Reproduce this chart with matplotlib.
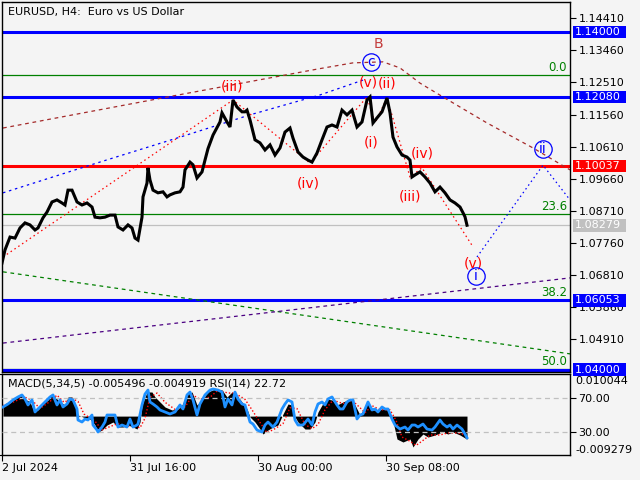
import matplotlib
matplotlib.use("Agg")
import matplotlib.pyplot as plt
from matplotlib.patches import Rectangle
from matplotlib.transforms import blended_transform_factory, offset_copy

# ---------------- data ----------------
bar_x = [2, 5, 10, 15, 20, 25, 30, 35, 38, 43, 47, 52, 57, 62, 65, 68, 72, 77, 82, 87,
         92, 95, 100, 105, 110, 115, 118, 123, 128, 132, 135, 138, 142, 143, 147, 148, 150, 153, 158, 163,
         167, 170, 175, 180, 183, 185, 190, 193, 197, 202, 205, 208, 213, 220, 222, 227, 230, 233, 237, 242,
         245, 247, 250, 255, 260, 265, 270, 275, 280, 285, 290, 293, 298, 303, 308, 312, 317, 322, 327, 332,
         337, 342, 347, 352, 357, 362, 367, 370, 373, 377, 382, 387, 390, 393, 397, 402, 407, 410, 412, 415,
         420, 425, 430, 435, 440, 445, 450, 455, 460, 463, 465, 467]
close = [1.0716, 1.0755, 1.0793, 1.0790, 1.0820, 1.0835, 1.0829, 1.0814, 1.0820, 1.0850,
         1.0867, 1.0897, 1.0903, 1.0894, 1.0888, 1.0932, 1.0932, 1.0897, 1.0888, 1.0894,
         1.0882, 1.0852, 1.0850, 1.0852, 1.0858, 1.0858, 1.0823, 1.0814, 1.0829, 1.0820,
         1.0790, 1.0784, 1.0852, 1.0912, 1.0953, 1.0998, 1.0962, 1.0932, 1.0924, 1.0927,
         1.0912, 1.0918, 1.0924, 1.0927, 1.0941, 1.0992, 1.1015, 1.1007, 1.0968, 1.0986,
         1.1021, 1.1055, 1.1095, 1.1134, 1.1161, 1.1134, 1.1119, 1.1199, 1.1178, 1.1164,
         1.1164, 1.1169, 1.1140, 1.1081, 1.1072, 1.1051, 1.1066, 1.1036, 1.1057, 1.1104,
         1.1116, 1.1086, 1.1045, 1.1030, 1.1021, 1.1015, 1.1042, 1.1081, 1.1119, 1.1125,
         1.1119, 1.1169, 1.1155, 1.1169, 1.1119, 1.1134, 1.1199, 1.1208, 1.1131, 1.1146,
         1.1164, 1.1205, 1.1161, 1.1089, 1.1060, 1.1036, 1.1030, 1.1021, 1.0971, 1.0977,
         1.0986, 1.0971, 1.0953, 1.0927, 1.0941, 1.0924, 1.0903, 1.0894, 1.0882, 1.0865,
         1.0853, 1.0828]

macd_x = [3, 8, 13, 20, 25, 30, 33, 38, 43, 48, 52, 55, 60, 65, 68, 72, 75, 78, 83, 90,
          95, 98, 102, 107, 113, 118, 123, 128, 133, 137, 140, 142, 147, 152, 155, 160, 165, 172, 178, 182,
          187, 192, 197, 202, 208, 215, 222, 227, 232, 237, 242, 247, 250, 255, 260, 263, 268, 273, 278, 283,
          288, 292, 295, 298, 305, 310, 315, 318, 322, 327, 332, 337, 343, 350, 355, 360, 363, 368, 373, 378,
          383, 388, 392, 397, 403, 410, 413, 418, 423, 428, 435, 442, 448, 453, 460, 467]
macd = [0.00265, 0.00289, 0.00384, 0.00503, 0.00408, 0.00336, 0.00169, 0.00146, 0.00289, 0.00384,
        0.00527, 0.00456, 0.00336, 0.00265, 0.00456, 0.00456, 0.00289, 0.00026, -0.00021, -0.00069,
        -0.00212, -0.00379, -0.00331, -0.00212, -0.00141, -0.00260, -0.00260, -0.00212, -0.00260, -0.00308,
        -0.00141, 0.00265, 0.00575, 0.00575, 0.00456, 0.00336, 0.00217, 0.00146, 0.00169, 0.00265,
        0.00527, 0.00575, 0.00265, 0.00384, 0.00575, 0.00647, 0.00623, 0.00456, 0.00575, 0.00503,
        0.00336, 0.00169, -0.00021, -0.00141, -0.00308, -0.00427, -0.00331, -0.00260, -0.00212, 0.00050,
        0.00289, 0.00265, -0.00021, -0.00141, -0.00308, -0.00308, -0.00141, 0.00098, 0.00265, 0.00408,
        0.00384, 0.00265, 0.00336, 0.00408, 0.00265, 0.00026, 0.00146, 0.00336, 0.00146, 0.00146,
        0.00169, 0.00146, -0.00021, -0.00547, -0.00618, -0.00547, -0.00737, -0.00547, -0.00427, -0.00499,
        -0.00451, -0.00379, -0.00427, -0.00379, -0.00451, -0.00550]

signal_x = [3, 15, 24, 32, 40, 50, 57, 64, 72, 78, 84, 95, 102, 110, 118, 125, 133, 140, 145, 150,
            157, 165, 175, 185, 193, 200, 210, 218, 228, 235, 245, 252, 260, 267, 275, 283, 290, 297, 305, 312,
            318, 325, 333, 343, 352, 360, 365, 372, 380, 390, 396, 402, 410, 416, 423, 430, 440, 448, 455, 462, 467]
signal = [0.0025, 0.0035, 0.0046, 0.0038, 0.0018, 0.0035, 0.0050, 0.0033, 0.0042, 0.0035,
          0.0005, -0.0012, -0.0033, -0.0025, -0.0018, -0.0025, -0.0023, -0.0028, -0.0005, 0.0045,
          0.0055, 0.0033, 0.0016, 0.0022, 0.0050, 0.0040, 0.0045, 0.0062, 0.0055, 0.0055,
          0.0040, 0.0015, -0.0015, -0.0040, -0.0030, -0.0018, 0.0020, 0.0018, -0.0020, -0.0030,
          -0.0020, 0.0015, 0.0038, 0.0030, 0.0038, 0.0020, 0.0008, 0.0025, 0.0015, 0.0015,
          -0.0010, -0.0050, -0.0060, -0.0070, -0.0058, -0.0045, -0.0045, -0.0040, -0.0040, -0.0042, -0.0049]

rsi_x = [3, 8, 13, 18, 22, 25, 28, 32, 35, 40, 45, 50, 53, 57, 60, 63, 67, 70, 73, 77,
         78, 82, 85, 88, 92, 93, 97, 98, 102, 105, 107, 112, 115, 118, 122, 127, 130, 133, 137, 138,
         142, 145, 148, 150, 153, 157, 160, 165, 170, 175, 180, 183, 187, 190, 193, 197, 200, 205, 210, 213,
         218, 222, 225, 228, 232, 235, 238, 242, 245, 248, 250, 253, 257, 262, 265, 268, 273, 277, 282, 285,
         288, 292, 295, 298, 303, 308, 312, 315, 318, 322, 325, 328, 332, 337, 340, 343, 347, 350, 353, 357,
         360, 363, 368, 372, 375, 378, 382, 385, 388, 392, 395, 400, 405, 408, 412, 415, 418, 423, 427, 432,
         435, 440, 443, 447, 450, 453, 457, 462, 465, 467]
rsi = [59.6, 63.2, 68.0, 71.6, 74.0, 69.2, 62.0, 68.0, 53.6, 59.6, 65.6, 71.6, 74.0, 62.0, 68.0, 59.6, 63.2, 69.2, 68.0, 57.2,
       44.0, 41.6, 45.2, 44.0, 50.0, 38.0, 32.0, 29.6, 35.6, 41.6, 50.0, 50.0, 50.0, 35.6, 38.0, 35.6, 45.2, 35.6, 38.0, 39.2,
       62.0, 75.1, 79.9, 65.6, 63.2, 59.6, 56.0, 53.6, 51.2, 53.6, 62.0, 57.2, 74.0, 77.5, 68.0, 50.0, 63.2, 74.0, 79.9, 81.1,
       79.9, 77.5, 59.6, 69.2, 62.0, 77.5, 69.2, 63.2, 62.0, 50.0, 41.6, 39.2, 32.0, 29.6, 38.0, 41.6, 35.6, 41.6, 57.2, 63.2,
       68.0, 65.6, 44.0, 38.0, 38.0, 45.2, 38.0, 53.6, 63.2, 65.6, 62.0, 69.2, 71.6, 62.0, 57.2, 57.2, 65.6, 68.0, 68.0, 45.2,
       50.0, 51.2, 65.6, 56.0, 57.2, 53.6, 59.6, 57.2, 57.2, 45.2, 38.0, 33.2, 35.6, 32.0, 38.0, 38.0, 35.6, 39.2, 33.2, 32.0,
       35.6, 44.0, 39.2, 35.6, 38.0, 33.2, 38.0, 33.2, 27.2, 22.7]

price_ticks = [1.14410, 1.13460, 1.12510, 1.11560, 1.10610, 1.09660, 1.08710, 1.07760,
               1.06810, 1.05860, 1.04910]
level_prices = [1.14000, 1.12080, 1.10037, 1.06053, 1.04000]
level_colors = ["#0000ff", "#0000ff", "#ff0000", "#0000ff", "#0000ff"]
fib_labels = ["0.0", "23.6", "38.2", "50.0"]
fib_prices = [1.1272, 1.0861, 1.0607, 1.0401]
last_price = 1.08279

date_pos = [2, 130, 258, 386]
date_labels = ["2 Jul 2024", "31 Jul 16:00", "30 Aug 00:00", "30 Sep 08:00"]

# drawn trend / wave lines (bar index, price)
brown_x = [3, 173, 318, 353, 383, 400, 420, 443, 487, 533, 570]
brown_y = [1.1116, 1.1211, 1.1291, 1.1309, 1.1312, 1.1294, 1.1249, 1.1208, 1.1131, 1.1057, 1.0992]
bluecurve_x = [3, 90, 180, 250, 320, 363]
bluecurve_y = [1.0924, 1.1006, 1.1089, 1.1155, 1.1214, 1.1258]
wave_x = [3, 233, 310, 367, 375, 387, 410, 422, 473]
wave_y = [1.0734, 1.1199, 1.1012, 1.1208, 1.1131, 1.1205, 1.0971, 1.0998, 1.0764]
proj_x = [477, 543, 570]
proj_y = [1.0734, 1.1006, 1.0903]
green_x = [3, 570]
green_y = [1.0690, 1.0447]
purple_x = [3, 570]
purple_y = [1.0479, 1.0672]

# ---------------- figure ----------------
BG = "#f4f4f4"
W, H = 640, 480
fig = plt.figure(figsize=(6.4, 4.8), dpi=100, facecolor=BG)


def rect(l, t, r, b):
    return [l / W, 1 - b / H, (r - l) / W, (b - t) / H]


ax = fig.add_axes(rect(2, 2, 570, 372))
ax.set_facecolor(BG)
ax.set_xlim(2, 570)
ax.set_ylim(1.03933, 1.14893)
for s in ax.spines.values():
    s.set_color("black")
    s.set_linewidth(1)
ax.set_xticks([])
ax.yaxis.tick_right()
ax.set_yticks(price_ticks)
ax.set_yticklabels([f"{v:.5f}" for v in price_ticks])
ax.tick_params(axis="y", direction="out", length=4, pad=2, labelsize=8, colors="black")

# horizontal levels
for p in fib_prices:
    ax.axhline(p, color="#008000", lw=0.9, zorder=2)
ax.axhline(last_price, color="#c0c0c0", lw=0.9, zorder=2)
for p, c in zip(level_prices, level_colors):
    ax.axhline(p, color=c, lw=2.2, zorder=2.2)

# trend lines
ax.plot(green_x, green_y, color="#008000", lw=0.9, ls=(0, (3, 3)), zorder=2.5)
ax.plot(purple_x, purple_y, color="#4b0082", lw=0.9, ls=(0, (3, 3)), zorder=2.5)
ax.plot(brown_x, brown_y, color="#a52a2a", lw=0.9, ls=(0, (3, 3)), zorder=2.5)
ax.plot(bluecurve_x, bluecurve_y, color="#0000ff", lw=0.9, ls=(0, (2, 3)), zorder=2.5)
ax.plot(wave_x, wave_y, color="#ff0000", lw=0.9, ls=(0, (1.2, 2.5)), zorder=2.5)
ax.plot(proj_x, proj_y, color="#0000ff", lw=0.9, ls=(0, (1.2, 2.5)), zorder=2.5)

# price
ax.plot(bar_x, close, color="black", lw=2.2, zorder=3, solid_joinstyle="miter")

# fib labels
trb = blended_transform_factory(ax.transAxes, ax.transData)
for lab, p in zip(fib_labels, fib_prices):
    ax.text(0.995, p + 0.0004, lab, transform=trb, ha="right", va="bottom",
            color="#008000", fontsize=8.5, zorder=4)

# right price boxes
box_prices = level_prices + [last_price]
box_colors = level_colors + ["#c0c0c0"]
box_x0 = (573 - 2) / 568
box_w = 53 / 568
box_h = 12.5 * 0.0002962
for p, c in zip(box_prices, box_colors):
    ax.add_patch(Rectangle((box_x0, p - box_h / 2), box_w, box_h, transform=trb,
                           facecolor=c, edgecolor="none", clip_on=False, zorder=6))
    ax.text(1.0 + 5 / 568, p, f"{p:.5f}", transform=trb, ha="left", va="center",
            color="white", fontsize=8, clip_on=False, zorder=7)

# wave labels
red = "#ff0000"
texts = [("B", 378, 1.1365, "#c43c3c"), ("(v)", 368, 1.1252, red), ("(ii)", 387, 1.1249, red),
         ("(iii)", 232, 1.1240, red), ("(i)", 371, 1.1072, red), ("(iv)", 308, 1.0953, red),
         ("(iv)", 422, 1.1042, red), ("(iii)", 410, 1.0912, red), ("(v)", 473, 1.0716, red)]
for t, x, y, c in texts:
    ax.text(x, y, t, color=c, fontsize=10, ha="center", va="center", zorder=5)
circled = [("c", 371, 1.1312), ("i", 476, 1.0678), ("ii", 543, 1.1054)]
for t, x, y in circled:
    ax.plot([x], [y], marker="o", ms=12.5, mfc="none", mec="#0000ff", mew=0.9, zorder=5)
    ax.text(x, y, t, color="#0000ff", fontsize=10, ha="center", va="center", zorder=5)

ax.text(6 / 568, 1 - 10 / 370, "EURUSD, H4:  Euro vs US Dollar", transform=ax.transAxes,
        ha="left", va="center", fontsize=8, color="black", zorder=6)

# ---------------- MACD / RSI panel ----------------
am = fig.add_axes(rect(2, 374, 570, 455))
am.set_facecolor(BG)
am.set_xlim(2, 570)
am.set_ylim(-0.009279, 0.010044)
for s in am.spines.values():
    s.set_color("black")
    s.set_linewidth(1)
am.fill_between(macd_x, 0, macd, color="black", lw=0, zorder=2)
am.plot(signal_x, signal, color="#ff0000", lw=1, ls=(0, (1, 1.5)), zorder=3)
am.set_xticks(date_pos)
am.set_xticklabels(date_labels)
for lbl in am.get_xticklabels():
    lbl.set_horizontalalignment("left")
am.tick_params(axis="x", direction="out", length=4, pad=2, labelsize=8)
am.yaxis.tick_right()
am.set_yticks([0.010044, -0.009279])
am.set_yticklabels([])
am.tick_params(axis="y", direction="out", length=4)

ar = am.twinx()
ar.set_ylim(2.1, 99.1)
ar.set_xlim(2, 570)
for s in ar.spines.values():
    s.set_visible(False)
ar.axhline(70, color="#c0c0c0", lw=0.9, ls=(0, (4, 3)), zorder=1)
ar.axhline(30, color="#c0c0c0", lw=0.9, ls=(0, (4, 3)), zorder=1)
ar.plot(rsi_x, rsi, color="#1e90ff", lw=2.0, zorder=4)
ar.set_yticks([70, 30])
ar.set_yticklabels(["70.00", "30.00"])
ar.tick_params(axis="y", direction="out", length=4, pad=2, labelsize=8)

trm = blended_transform_factory(am.transAxes, am.transData)
am.text(1.0 + 5 / 568, 0.010044, "0.010044", transform=offset_copy(trm, fig=fig, y=-1.5, units="points"),
        ha="left", va="top", fontsize=8, clip_on=False)
am.text(1.0 + 5 / 568, -0.009279, "-0.009279", transform=trm, ha="left", va="bottom",
        fontsize=8, clip_on=False)
am.text(6 / 568, 1 - 10 / 81, "MACD(5,34,5) -0.005496 -0.004919 RSI(14) 22.72",
        transform=am.transAxes, ha="left", va="center", fontsize=8, zorder=6)

fig.savefig("out.png", dpi=100, facecolor=BG)
